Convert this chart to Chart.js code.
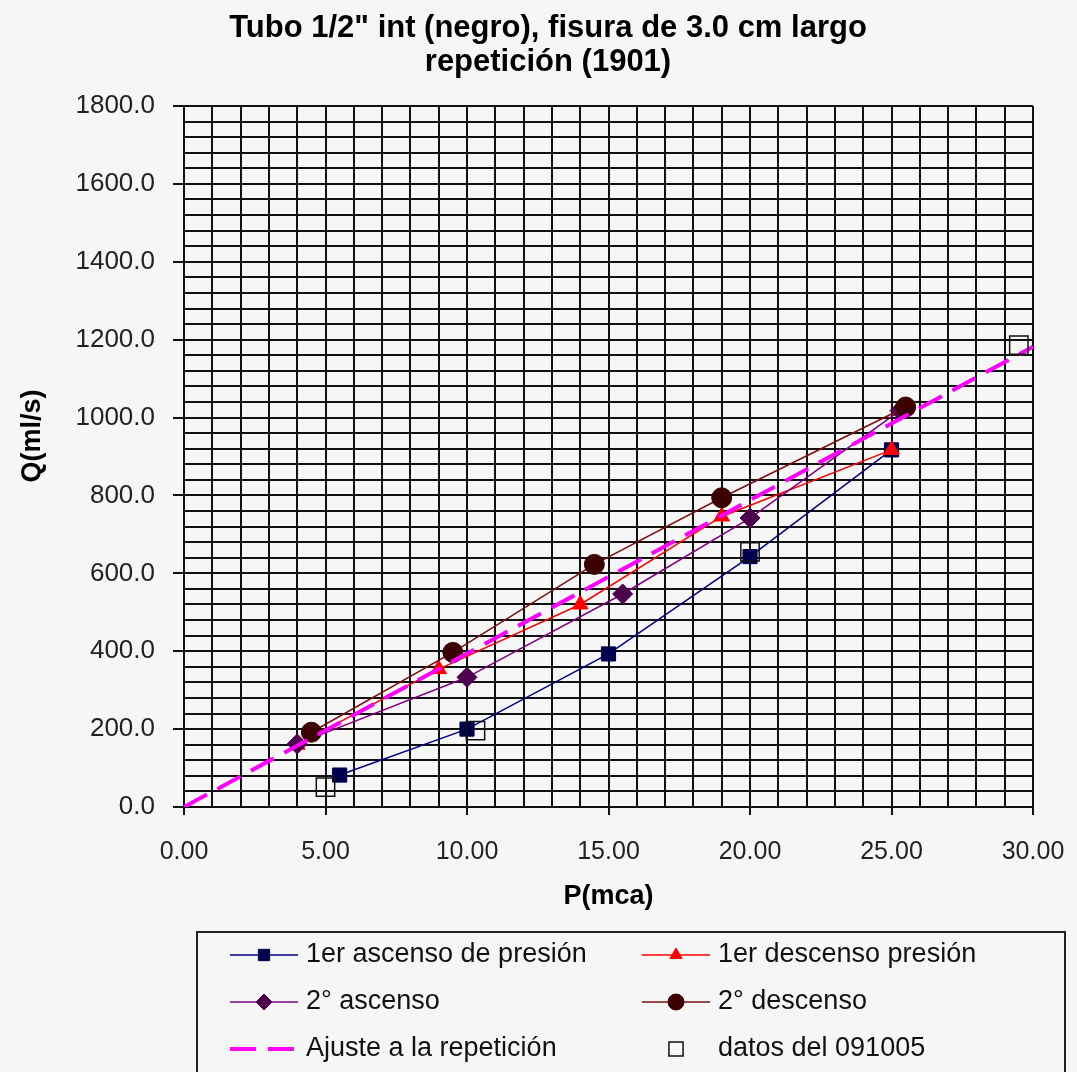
<!DOCTYPE html>
<html>
<head>
<meta charset="utf-8">
<script src="https://cdn.jsdelivr.net/npm/chart.js@4.4.1/dist/chart.umd.min.js"></script>
<style>
  html, body { margin: 0; padding: 0; background: #f6f6f6; }
  #c { display: block; }
</style>
</head>
<body>
<canvas id="c" width="1077" height="1072"></canvas>
<script>
// --- DATA ---
const titleLines = ['Tubo 1/2" int (negro), fisura de 3.0 cm largo', 'repetición (1901)'];
const yTitle = 'Q(ml/s)';
const xTitle = 'P(mca)';

const pAsc1 = [5.5, 10.0, 15.0, 20.0, 25.0];
const qAsc1 = [82, 200, 393, 643, 917];

const pDesc1 = [25.0, 19.0, 14.0, 9.0, 4.0];
const qDesc1 = [917, 746, 520, 354, 160];

const pAsc2 = [4.0, 10.0, 15.5, 20.0, 25.3];
const qAsc2 = [162, 333, 547, 742, 1018];

const pDesc2 = [25.5, 19.0, 14.5, 9.5, 4.5];
const qDesc2 = [1027, 794, 623, 397, 192];

const pFit = [0, 30];
const qFit = [0, 1182];

const pOld = [5.0, 10.3, 20.0, 29.5];
const qOld = [51, 196, 655, 1186];

const xTickLabelStep = 5;
const yTickLabelStep = 200;

const toPts = (xs, ys) => xs.map((x, i) => ({ x, y: ys[i] }));

const FONT = '"Liberation Sans", Arial, sans-serif';

// --- TEXT PLACED LIKE THE SPREADSHEET EXPORT (title, y axis title) ---
const textPlugin = {
  id: 'texts',
  afterDraw(chart) {
    const ctx = chart.ctx;
    ctx.save();
    ctx.fillStyle = '#000';
    ctx.textAlign = 'center';
    ctx.textBaseline = 'middle';
    ctx.font = 'bold 31px ' + FONT;
    ctx.fillText(titleLines[0], 548, 28);
    ctx.fillText(titleLines[1], 548, 62);

    ctx.font = 'bold 27px ' + FONT;
    ctx.translate(33, 436);
    ctx.rotate(-Math.PI / 2);
    ctx.fillText(yTitle, 0, 0);
    ctx.restore();
  }
};

// --- LEGEND DRAWN AS A BOX UNDER THE PLOT ---
const boxLegend = {
  id: 'boxLegend',
  afterDraw(chart) {
    const ctx = chart.ctx;
    ctx.save();
    ctx.strokeStyle = '#222';
    ctx.lineWidth = 2;
    ctx.strokeRect(197, 932, 868, 170);

    const cols = [230, 642];
    const rows = [955, 1002, 1049];
    chart.data.datasets.forEach((ds, i) => {
      const x = cols[i % 2];
      const y = rows[Math.floor(i / 2)];
      if (ds.showLine !== false) {
        ctx.save();
        ctx.strokeStyle = ds.borderColor;
        ctx.lineWidth = ds.borderWidth;
        ctx.setLineDash(ds.borderDash || []);
        ctx.beginPath();
        ctx.moveTo(x, y);
        ctx.lineTo(x + 68, y);
        ctx.stroke();
        ctx.restore();
      }
      if (ds.pointRadius > 0) {
        ctx.save();
        ctx.fillStyle = ds.pointBackgroundColor;
        ctx.strokeStyle = ds.pointBorderColor;
        ctx.lineWidth = ds.pointBorderWidth;
        Chart.helpers.drawPoint(ctx, {
          pointStyle: ds.pointStyle,
          radius: ds.legendRadius,
          borderWidth: ds.pointBorderWidth,
          rotation: 0
        }, x + 34, y);
        ctx.restore();
      }
      ctx.fillStyle = '#111';
      ctx.font = '27px ' + FONT;
      ctx.textBaseline = 'middle';
      ctx.fillText(ds.label, x + 76, y);
    });
    ctx.restore();
  }
};

const bgPlugin = {
  id: 'bg',
  beforeDraw(chart) {
    const ctx = chart.ctx;
    ctx.save();
    ctx.fillStyle = '#f6f6f6';
    ctx.fillRect(0, 0, chart.width, chart.height);
    ctx.restore();
  }
};

new Chart(document.getElementById('c'), {
  type: 'scatter',
  data: {
    datasets: [
      {
        label: '1er ascenso de presión',
        data: toPts(pAsc1, qAsc1),
        showLine: true,
        borderColor: '#000080', borderWidth: 1.5,
        pointStyle: 'rect', pointRadius: 10, legendRadius: 8,
        pointBackgroundColor: '#00004d', pointBorderColor: '#00004d', pointBorderWidth: 1,
        order: 6
      },
      {
        label: '1er descenso presión',
        data: toPts(pDesc1, qDesc1),
        showLine: true,
        borderColor: '#ff0000', borderWidth: 1.5,
        pointStyle: 'triangle', pointRadius: 9, legendRadius: 7,
        pointBackgroundColor: '#ff0000', pointBorderColor: '#ff0000', pointBorderWidth: 1,
        order: 5
      },
      {
        label: '2° ascenso',
        data: toPts(pAsc2, qAsc2),
        showLine: true,
        borderColor: '#800080', borderWidth: 1.5,
        pointStyle: 'rectRot', pointRadius: 10, legendRadius: 8,
        pointBackgroundColor: '#4d004d', pointBorderColor: '#4d004d', pointBorderWidth: 1,
        order: 4
      },
      {
        label: '2° descenso',
        data: toPts(pDesc2, qDesc2),
        showLine: true,
        borderColor: '#7a1010', borderWidth: 1.5,
        pointStyle: 'circle', pointRadius: 10, legendRadius: 8,
        pointBackgroundColor: '#3d0000', pointBorderColor: '#3d0000', pointBorderWidth: 1,
        order: 3
      },
      {
        label: 'Ajuste a la repetición',
        data: toPts(pFit, qFit),
        showLine: true,
        borderColor: '#ff00ff', borderWidth: 4,
        borderDash: [26, 12],
        pointRadius: 0, legendRadius: 0,
        order: 2
      },
      {
        label: 'datos del 091005',
        data: toPts(pOld, qOld),
        showLine: false,
        borderColor: '#000', borderWidth: 1,
        pointStyle: 'rect', pointRadius: 13, legendRadius: 10,
        pointBackgroundColor: 'rgba(0,0,0,0)', pointBorderColor: '#111', pointBorderWidth: 1.5,
        order: 1
      }
    ]
  },
  options: {
    responsive: false,
    animation: false,
    devicePixelRatio: 1,
    layout: { padding: { left: 18, right: 44, top: 106, bottom: 155 } },
    plugins: {
      legend: { display: false },
      tooltip: { enabled: false },
      title: { display: false }
    },
    scales: {
      x: {
        type: 'linear',
        min: 0, max: 30,
        border: { color: '#111', width: 2 },
        grid: {
          color: '#111', lineWidth: 2,
          tickLength: 8,
          tickColor: c => (c.tick && Math.round(c.tick.value) % xTickLabelStep === 0) ? '#111' : 'rgba(0,0,0,0)'
        },
        ticks: {
          stepSize: 1, autoSkip: false, maxRotation: 0, maxTicksLimit: 100,
          padding: 22,
          color: '#222',
          font: { family: FONT, size: 25 },
          callback: v => (Math.round(v) % xTickLabelStep === 0) ? Number(v).toFixed(2) : ''
        },
        title: {
          display: true, text: xTitle, color: '#000',
          font: { family: FONT, size: 27, weight: 'bold' },
          padding: { top: 8, bottom: 4 }
        },
        afterFit: s => { s.height = 110; s.paddingRight = 0; s.paddingLeft = 0; }
      },
      y: {
        type: 'linear',
        min: 0, max: 1800,
        border: { color: '#111', width: 2 },
        grid: {
          color: '#111', lineWidth: 2,
          tickLength: 11,
          tickColor: c => (c.tick && Math.round(c.tick.value) % yTickLabelStep === 0) ? '#111' : 'rgba(0,0,0,0)'
        },
        ticks: {
          stepSize: 40, autoSkip: false, maxTicksLimit: 100,
          padding: 18,
          color: '#222',
          font: { family: FONT, size: 26 },
          callback: v => (Math.round(v) % yTickLabelStep === 0) ? Number(v).toFixed(1) : ''
        },
        title: { display: false },
        afterFit: s => { s.width = 166; s.paddingTop = 0; s.paddingBottom = 0; }
      }
    }
  },
  plugins: [bgPlugin, boxLegend, textPlugin]
});
</script>
</body>
</html>
